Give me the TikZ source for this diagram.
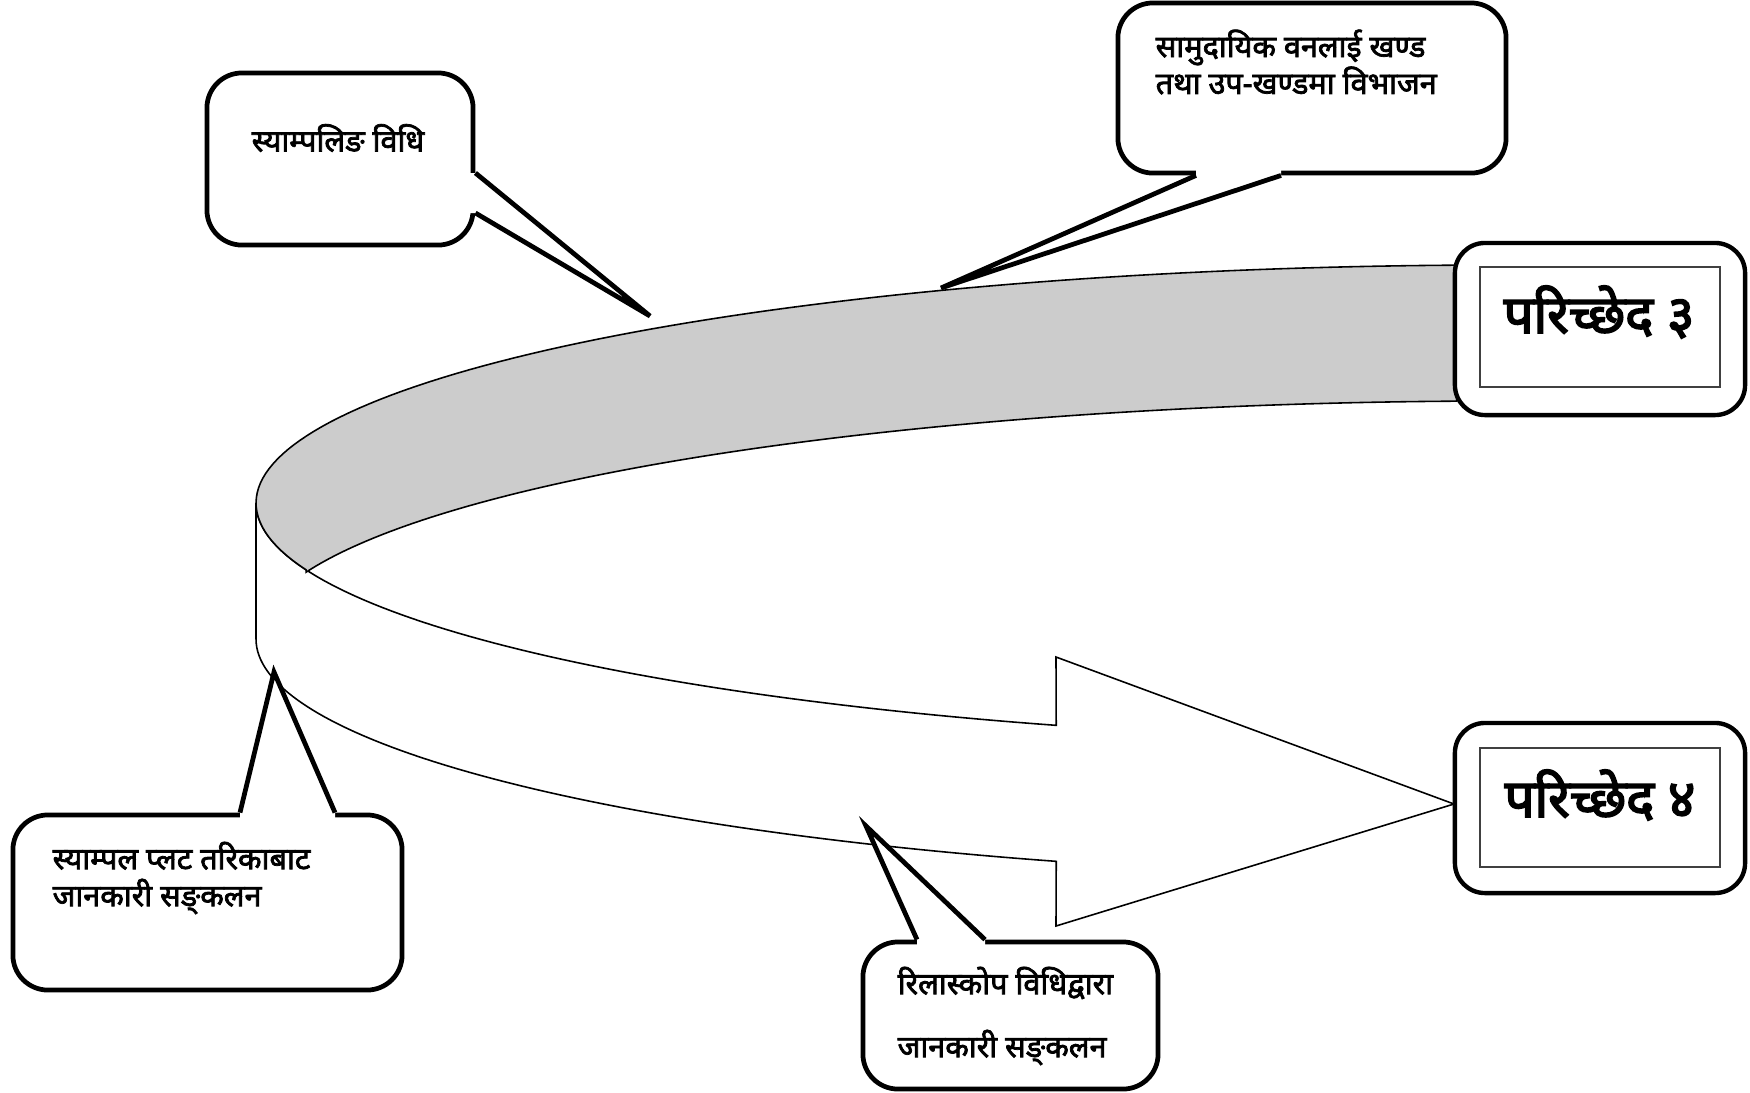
\documentclass[tikz,border=0pt]{standalone}
\usepackage{fontspec}
\newfontfamily\dev[Script=Devanagari,FakeBold=2.4]{Noto Sans}
\newfontfamily\devtitle[Script=Devanagari,FakeBold=3.2]{Noto Sans}
\usetikzlibrary{calc}
\tikzset{
  ring/.style={draw=black, line width=0.45pt},
  bubble/.style={draw=black, line width=1.35pt, fill=white, rounded corners=0.35cm, inner sep=0pt},
  pointer/.style={draw=black, line width=1.35pt, line join=miter},
  chapbox/.style={draw=black, line width=1.25pt, fill=white, rounded corners=0.3cm, inner sep=0pt},
  chapinner/.style={draw=black!75, line width=0.5pt, inner sep=0pt},
  txt/.style={font=\dev\fontsize{8.7}{10.5}\selectfont, align=left, inner sep=0pt},
  title/.style={font=\devtitle\fontsize{15}{17}\selectfont, inner sep=0pt}
}
\begin{document}
\begin{tikzpicture}[x=0.01cm, y=-0.01cm]
\useasboundingbox (0,0) rectangle (1750,1093);

% side face of the curved arrow
\filldraw[ring, fill=white]
  plot[domain=180:110.9, samples=70] ({1500+1244*cos(\x)},{503+238*sin(\x)})
  -- (1056,657) -- (1454,804) -- (1056,926)
  -- plot[domain=110.9:180, samples=70] ({1500+1244*cos(\x)},{639+238*sin(\x)})
  -- cycle;
% top (grey) face
\filldraw[ring, fill=gray!40]
  plot[domain=163.7:268, samples=90] ({1500+1244*cos(\x)},{503+238*sin(\x)})
  -- plot[domain=268:196.3, samples=90] ({1500+1244*cos(\x)},{639+238*sin(\x)})
  -- cycle;

% chapter boxes
\node[chapbox, minimum width=2.9cm, minimum height=1.72cm] (c3) at (1600,329) {};
\node[chapinner, minimum width=2.4cm, minimum height=1.2cm] (c3i) at (1600,327) {};
\node[title] (c3t) at (1599,312) {परिच्छेद ३};
\node[chapbox, minimum width=2.9cm, minimum height=1.70cm] (c4) at (1600,808) {};
\node[chapinner, minimum width=2.4cm, minimum height=1.19cm] (c4i) at (1600,807.5) {};
\node[title] (c4t) at (1600,795) {परिच्छेद ४};

% bubble 1
\node[bubble, minimum width=2.66cm, minimum height=1.72cm] (b1) at (340,159) {};
\coordinate (b1tip) at (650,316);
\coordinate (b1a) at ($(b1.east)+(0,14)$);
\coordinate (b1b) at ($(b1.east)+(0,54)$);
\fill[white] (b1a) -- (b1tip) -- (b1b) -- ($(b1b)+(-12,0)$) -- ($(b1a)+(-12,0)$) -- cycle;
\draw[pointer] (b1a) -- (b1tip) -- (b1b);
\node[txt] (t1) at (338,138) {स्याम्पलिङ विधि};

% bubble 2
\node[bubble, minimum width=3.88cm, minimum height=1.70cm] (b2) at (1312,88) {};
\coordinate (b2tip) at (941,288);
\coordinate (b2a) at ($(b2.south)+(-116,0)$);
\coordinate (b2b) at ($(b2.south)+(-31,0)$);
\fill[white] (b2a) -- (b2tip) -- (b2b) -- ($(b2b)+(0,-12)$) -- ($(b2a)+(0,-12)$) -- cycle;
\draw[pointer] (b2a) -- (b2tip) -- (b2b);
\node[txt, anchor=west] (t2) at (1155,62) {सामुदायिक वनलाई खण्ड\\तथा उप-खण्डमा विभाजन};

% bubble 3
\node[bubble, minimum width=3.89cm, minimum height=1.75cm] (b3) at (207.5,902.5) {};
\coordinate (b3tip) at (274,672);
\coordinate (b3a) at ($(b3.north)+(32.5,0)$);
\coordinate (b3b) at ($(b3.north)+(127.5,0)$);
\fill[white] (b3a) -- (b3tip) -- (b3b) -- ($(b3b)+(0,12)$) -- ($(b3a)+(0,12)$) -- cycle;
\draw[pointer] (b3a) -- (b3tip) -- (b3b);
\node[txt, anchor=west] (t3) at (52,878) {स्याम्पल प्लट तरिकाबाट\\जानकारी सङ्‌कलन};

% bubble 4
\node[bubble, minimum width=2.95cm, minimum height=1.47cm] (b4) at (1010.5,1015.5) {};
\coordinate (b4tip) at (866,826);
\coordinate (b4a) at ($(b4.north)+(-93.5,0)$);
\coordinate (b4b) at ($(b4.north)+(-25.5,0)$);
\fill[white] (b4a) -- (b4tip) -- (b4b) -- ($(b4b)+(0,12)$) -- ($(b4a)+(0,12)$) -- cycle;
\draw[pointer] (b4a) -- (b4tip) -- (b4b);
\node[txt, anchor=west] (t4) at (897,1016) {रिलास्कोप विधिद्वारा\\[7.4pt]जानकारी सङ्‌कलन};
\end{tikzpicture}
\end{document}
